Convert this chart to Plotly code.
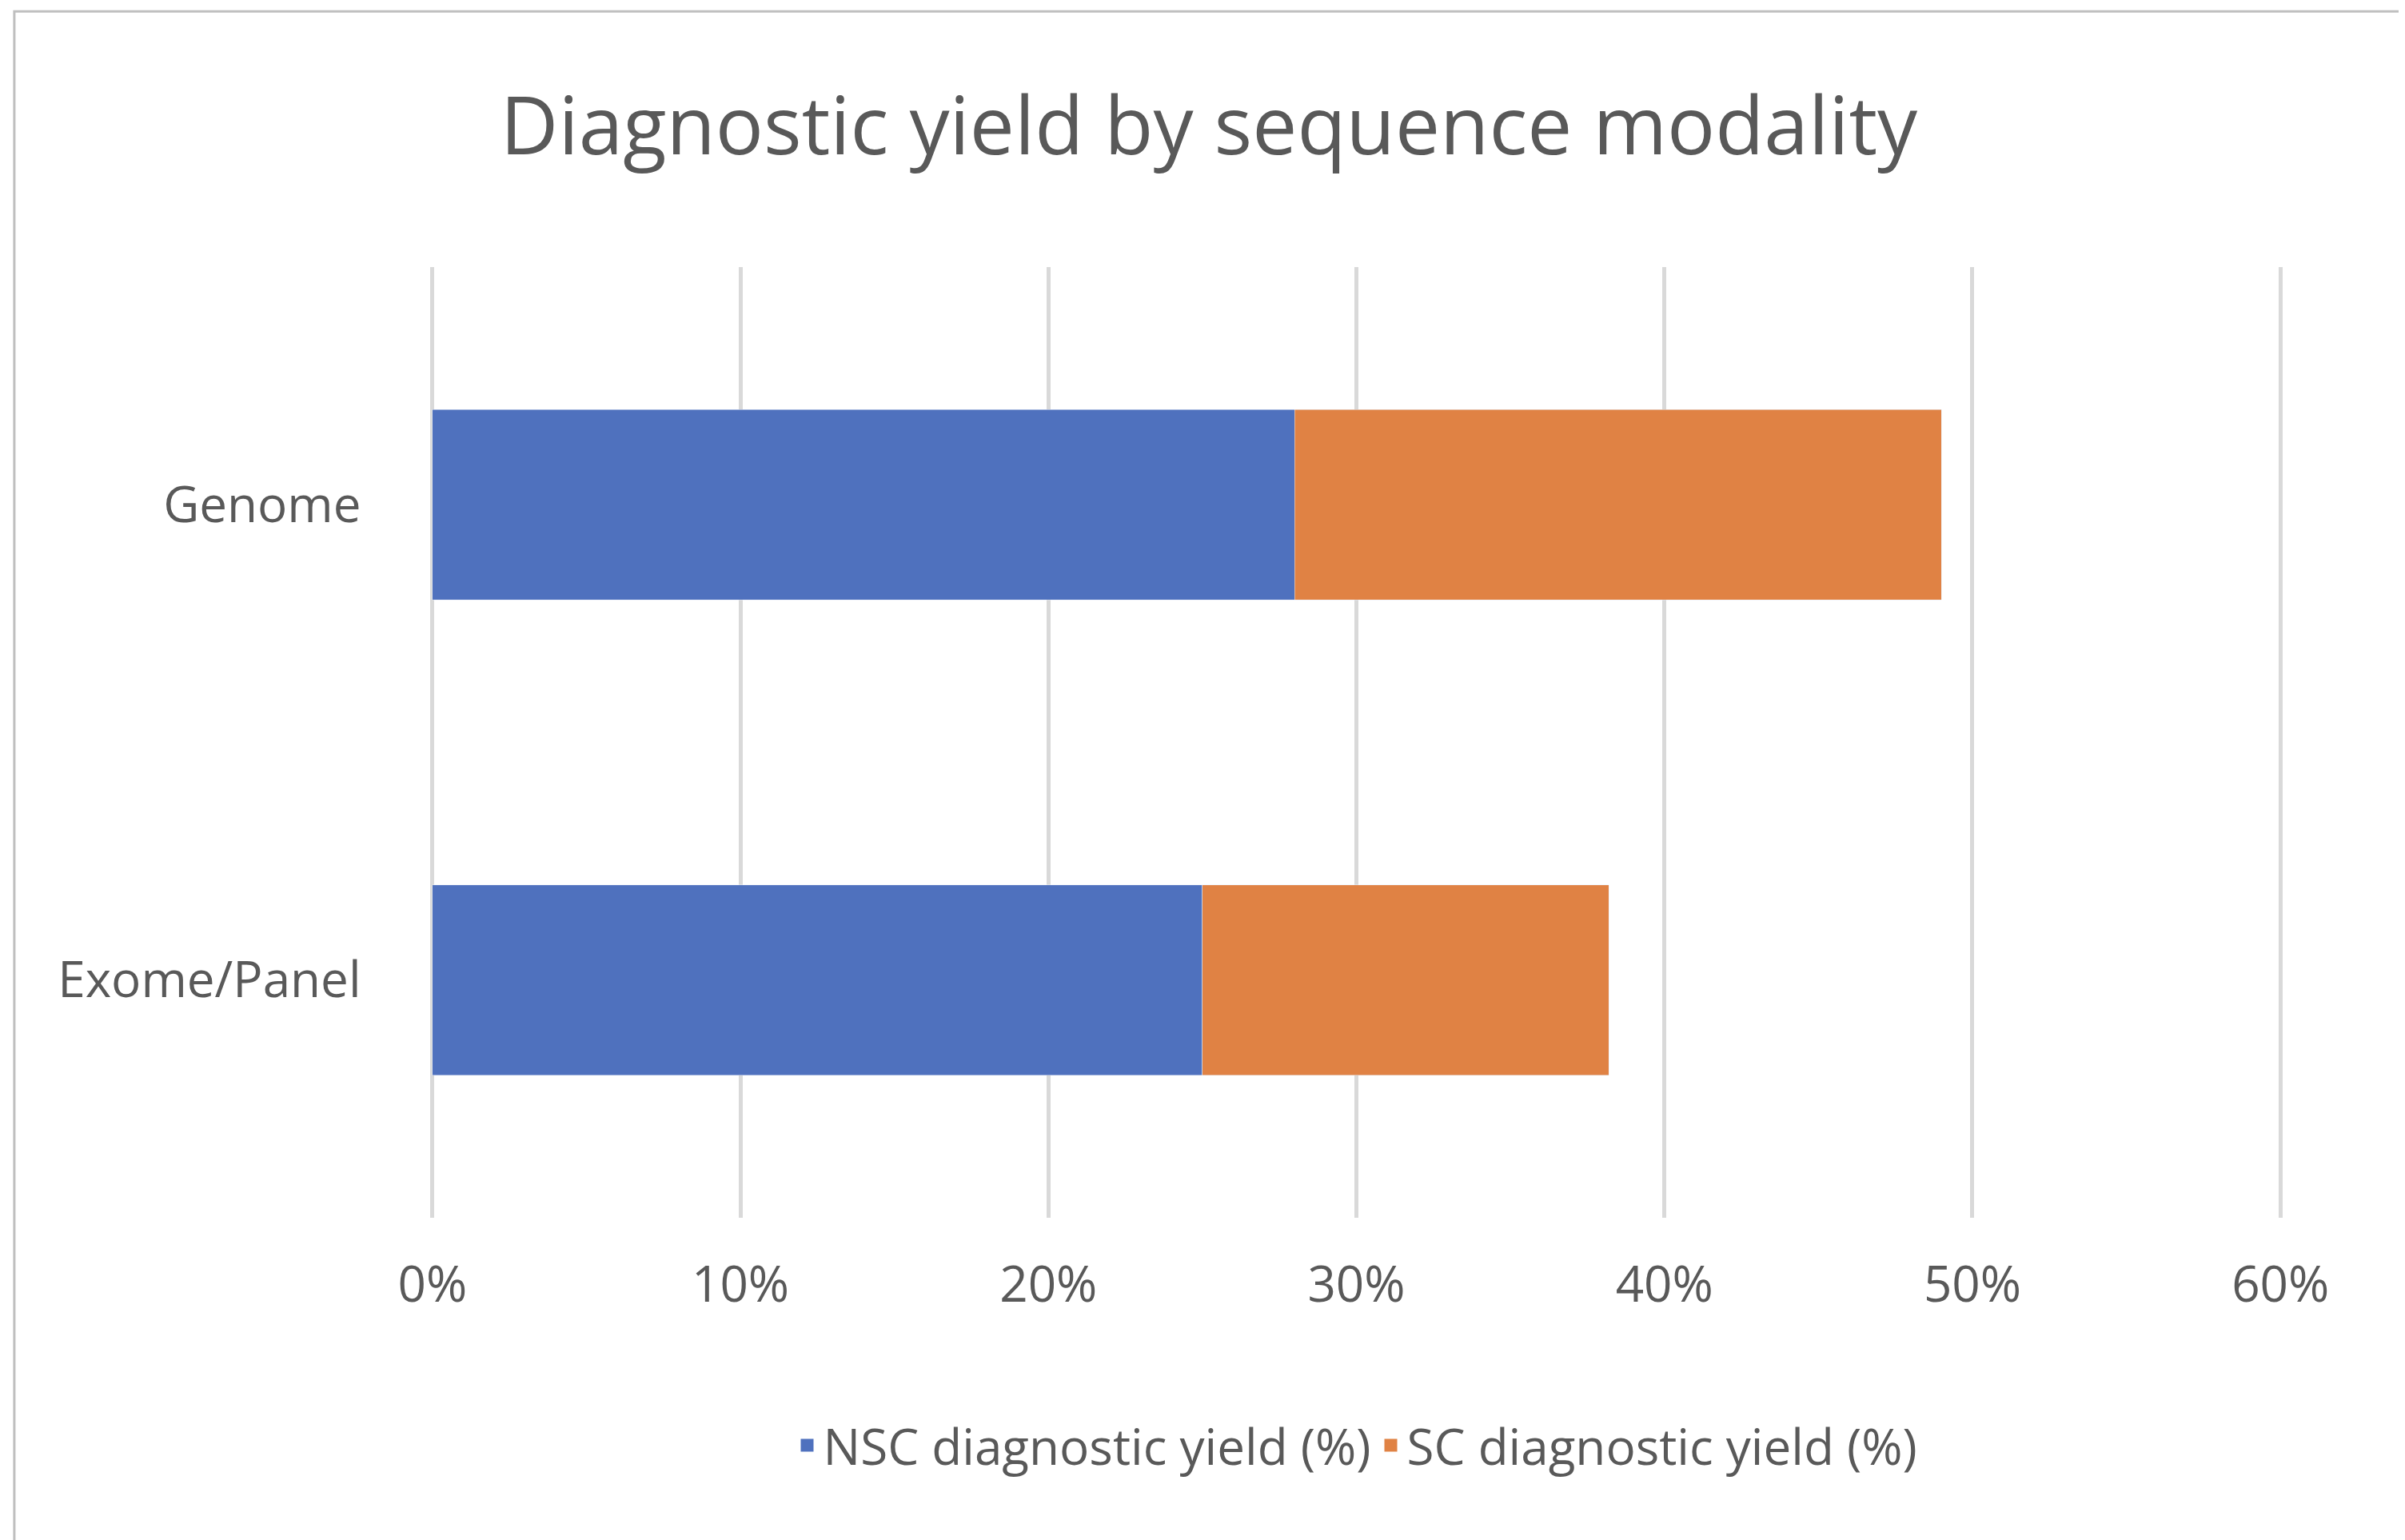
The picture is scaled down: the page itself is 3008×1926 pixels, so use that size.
import plotly.graph_objects as go

categories = ['Exome/Panel', 'Genome']
nsc_yield = [25, 28]
sc_yield = [13.2, 21]
series_names = ['NSC diagnostic yield (%)', 'SC diagnostic yield (%)']
series_colors = ['#4F71BE', '#E08244']
x_ticks = [0, 10, 20, 30, 40, 50, 60]
x_tick_labels = ['0%', '10%', '20%', '30%', '40%', '50%', '60%']

fig = go.Figure()
for vals, name, color in zip([nsc_yield, sc_yield], series_names, series_colors):
    fig.add_trace(go.Bar(y=categories, x=vals, orientation='h', name=name,
                         marker_color=color, showlegend=False))
# legend-only entries, so the legend squares can be large
for name, color in zip(series_names, series_colors):
    fig.add_trace(go.Scatter(x=[None], y=[None], mode='markers', name=name,
                             marker=dict(symbol='square', size=40, color=color)))

fig.update_layout(
    barmode='stack', bargap=0.6,
    width=3008, height=1926,
    margin=dict(l=527, r=158, t=326, b=411),
    paper_bgcolor='white', plot_bgcolor='white',
    font=dict(family='Open Sans', color='#595959', size=62),
    title=dict(text='Diagnostic yield by sequence modality', x=0.5, xanchor='center',
               y=0.922, yanchor='middle', font=dict(size=100, color='#595959')),
    legend=dict(orientation='h', x=0.5, xanchor='center', y=-0.2, yanchor='top',
                font=dict(size=62), traceorder='normal', itemsizing='trace'),
    shapes=[dict(type='rect', xref='paper', yref='paper', x0=-0.2226, x1=1.0646,
                 y0=-0.3406, y1=1.269, line=dict(color='#BFBFBF', width=3))],
)
fig.update_xaxes(range=[-0.15, 60.15], tickvals=x_ticks, ticktext=x_tick_labels,
                 showgrid=True, gridcolor='#D9D9D9', gridwidth=5, zeroline=False,
                 ticks='outside', ticklen=30, tickcolor='white')
fig.update_yaxes(showgrid=False, ticks='outside', ticklen=70, tickcolor='white')

fig.write_html('out.html')
